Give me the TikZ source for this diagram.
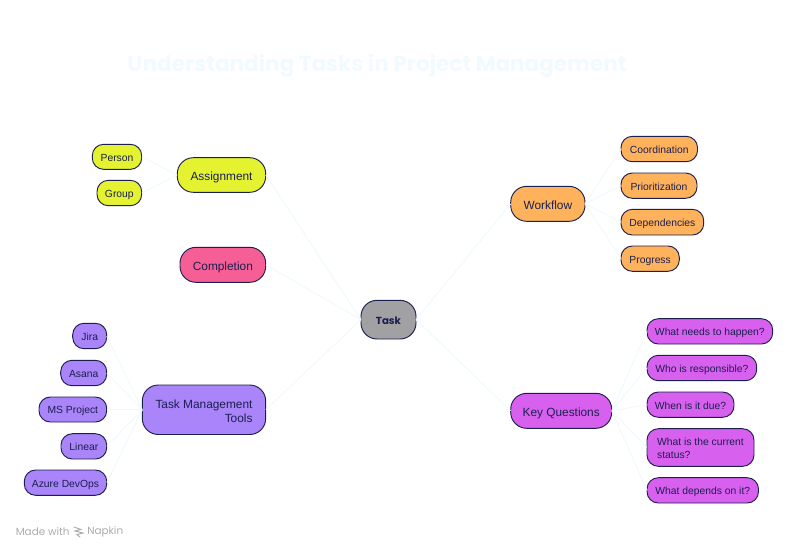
\documentclass[tikz,border=0pt]{standalone}
\usepackage{fontspec}
\setmainfont{Liberation Sans}
\newfontfamily\headfont{Poppins}
\usetikzlibrary{calc}
\definecolor{inkc}{HTML}{1B1F4F}
\definecolor{linkc}{HTML}{EFF9FD}
\definecolor{titlec}{HTML}{F1FAFE}
\definecolor{markc}{HTML}{ABABAB}
\definecolor{yellowc}{HTML}{E5F230}
\definecolor{pinkc}{HTML}{F65E96}
\definecolor{violetc}{HTML}{AA84F9}
\definecolor{orangec}{HTML}{FFB25C}
\definecolor{magentac}{HTML}{D860EE}
\definecolor{greyc}{HTML}{A1A1A3}
\tikzset{
  x=0.75pt,y=-0.75pt,
  basebox/.style={draw=inkc,line width=0.7pt,text=inkc,inner sep=0pt,outer sep=0pt,rectangle},
  leafbox/.style={basebox,rounded corners=8.5pt,font=\fontsize{7.75pt}{10pt}\selectfont},
  branchbox/.style={basebox,rounded corners=12pt,font=\fontsize{8.9pt}{10.6pt}\selectfont},
  rootbox/.style={basebox,rounded corners=12pt,fill=greyc,font=\headfont\bfseries\fontsize{7.7pt}{9pt}\selectfont},
  leafline/.style={text height=6.7pt,text depth=0pt},
  branchline/.style={text height=7.9pt,text depth=0pt},
  link/.style={draw=linkc,line width=0.75pt},
  marktext/.style={text=markc,inner sep=0pt,font=\headfont\fontsize{7.8pt}{9pt}\selectfont},
  markline/.style={draw=markc,line width=0.7pt,line cap=round}
}
\newcommand{\bx}[6][]{\node[#1,minimum width={(#4-#2)*0.75pt},minimum height={(#5-#3)*0.75pt}] (#6) at ({(#2+#4)/2},{(#3+#5)/2})}
\newcommand{\lnk}[2]{\draw[link] let \p1=(#1.east),\p2=(#2.west),\n1={4.2/(\x2-\x1)} in ($(\p1)!\n1!(\p2)$) -- ($(\p2)!\n1!(\p1)$);}
\newcommand{\firstline}{\rule{0pt}{0.92em}}
\begin{document}
\begin{tikzpicture}
\useasboundingbox (0,0) rectangle (798,551);
\node[text=titlec,inner sep=0pt,font=\headfont\bfseries\fontsize{16.15pt}{20pt}\selectfont] (title) at (377,65.5) {Understanding Tasks in Project Management};

\bx[rootbox,branchline]{361}{300.3}{416}{339}{task} {Task};

\bx[branchbox,branchline,fill=yellowc]{177.3}{157.7}{265.7}{192.3}{assign} {Assignment};
\bx[leafbox,leafline,fill=yellowc]{92.3}{144.3}{141.7}{169.3}{person} {Person};
\bx[leafbox,leafline,fill=yellowc]{97}{180.3}{141.7}{205.7}{group} {Group};

\bx[branchbox,branchline,fill=pinkc]{180}{247.3}{265.7}{282.3}{complete} {Completion};

\bx[branchbox,fill=violetc,align=right]{142.3}{385}{265.7}{434.5}{tools} {\firstline Task Management\\Tools};
\bx[leafbox,leafline,fill=violetc]{72.7}{323.3}{106.7}{348.7}{jira} {Jira};
\bx[leafbox,leafline,fill=violetc]{60.7}{360.3}{106.7}{385.7}{asana} {Asana};
\bx[leafbox,leafline,fill=violetc]{39}{397}{106.7}{422}{msp} {MS Project};
\bx[leafbox,leafline,fill=violetc]{61}{433.7}{106.7}{459}{linear} {Linear};
\bx[leafbox,leafline,fill=violetc]{24.3}{470}{106.7}{495.3}{azure} {Azure DevOps};

\bx[branchbox,branchline,fill=orangec]{510.7}{186.3}{585}{221.3}{workflow} {Workflow};
\bx[leafbox,leafline,fill=orangec]{621}{136.3}{697.5}{161.7}{coord} {Coordination};
\bx[leafbox,leafline,fill=orangec]{621}{173}{697}{198.3}{prior} {Prioritization};
\bx[leafbox,leafline,fill=orangec]{621}{209.3}{703.7}{235}{depend} {Dependencies};
\bx[leafbox,leafline,fill=orangec]{621}{246}{679.3}{271.3}{progress} {Progress};

\bx[branchbox,branchline,fill=magentac]{510.7}{393.3}{611.7}{428.3}{keyq} {Key Questions};
\bx[leafbox,leafline,fill=magentac]{647}{318.7}{772.7}{344}{qneeds} {What needs to happen?};
\bx[leafbox,leafline,fill=magentac]{647}{355.3}{756.7}{380.7}{qwho} {Who is responsible?};
\bx[leafbox,leafline,fill=magentac]{647}{392}{734}{417.3}{qwhen} {When is it due?};
\bx[leafbox,fill=magentac,align=left]{647}{428.7}{754}{466.3}{qstatus} {\firstline What is the current\\status?};
\bx[leafbox,leafline,fill=magentac]{647}{477.7}{758.5}{503}{qdep} {What depends on it?};

\lnk{assign}{task}
\lnk{complete}{task}
\lnk{tools}{task}
\lnk{task}{workflow}
\lnk{task}{keyq}
\lnk{person}{assign}
\lnk{group}{assign}
\lnk{jira}{tools}
\lnk{asana}{tools}
\lnk{msp}{tools}
\lnk{linear}{tools}
\lnk{azure}{tools}
\lnk{workflow}{coord}
\lnk{workflow}{prior}
\lnk{workflow}{depend}
\lnk{workflow}{progress}
\lnk{keyq}{qneeds}
\lnk{keyq}{qwho}
\lnk{keyq}{qwhen}
\lnk{keyq}{qstatus}
\lnk{keyq}{qdep}

\node[marktext,anchor=west] (made) at (15.5,532) {Made with};
\node[marktext,anchor=west] (napkin) at (87,532) {Napkin};
\draw[markline] (74,527) -- (81,529.5) -- (75,531) -- (83,533) -- (77,534.5) -- (80,537);
\end{tikzpicture}
\end{document}
